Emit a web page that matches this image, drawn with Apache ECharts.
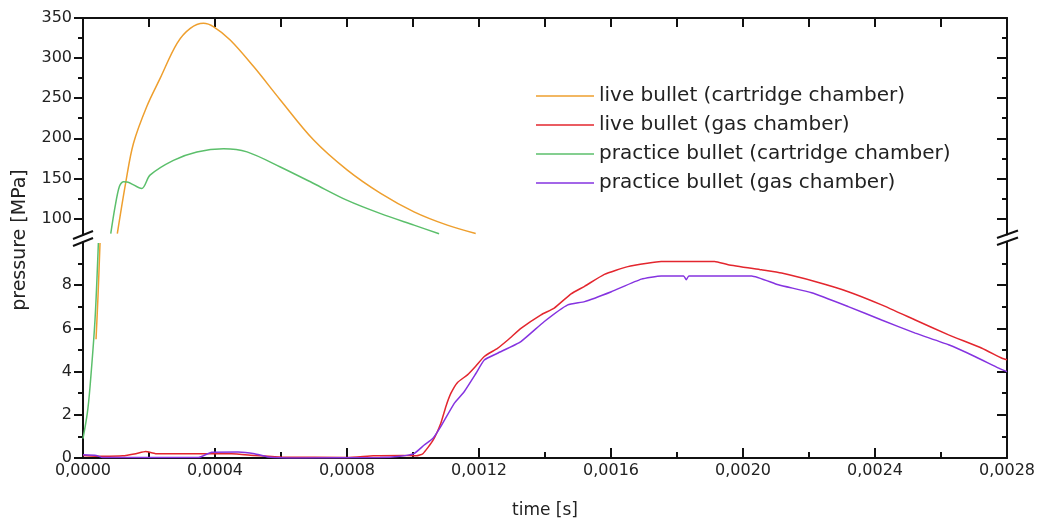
<!DOCTYPE html>
<html lang="en">
<head>
<meta charset="UTF-8">
<title>pressure vs time</title>
<script src="https://cdn.jsdelivr.net/npm/echarts@6/dist/echarts.min.js"></script>
<style>
    html, body { margin: 0; padding: 0; background: #fff; }
    #chart { width: 1050px; height: 524px; }
</style>
</head>
<body>
<div id="chart"></div>
<script>
    // ---- data: [time s, pressure MPa] ----
    var liveCartUpper = [
        [0.000104, 81.2], [0.00013, 146], [0.000153, 193.8], [0.000193, 239.4], [0.000234, 275],
        [0.000285, 318.4], [0.000325, 337], [0.000365, 343.3], [0.000396, 339], [0.000446, 322.6],
        [0.000517, 289.4], [0.000598, 247.8], [0.000699, 197.8], [0.000801, 160.3], [0.000902, 131.3],
        [0.001003, 108.3], [0.001104, 91.7], [0.00119, 81.3]
    ];
    var liveCartLower = [[0.0000395, 5.5], [0.0000455, 7.5], [0.0000516, 9.95]];

    var practCartUpper = [
        [0.0000841, 81], [0.0000972, 114.7], [0.00011, 139.6], [0.000122, 145.8], [0.000133, 145.6],
        [0.000178, 137.3], [0.000203, 154], [0.000274, 172.5], [0.000345, 183], [0.000426, 187],
        [0.000497, 183], [0.000598, 164.2], [0.000699, 143.6], [0.000801, 122.5], [0.000902, 106],
        [0.001003, 91.7], [0.001079, 81]
    ];
    var practCartLower = [[0, 0.9], [0.000013, 2.07], [0.0000213, 3.3], [0.0000364, 6.4], [0.0000466, 9.95]];

    var liveGas = [
        [0, 0.12], [0.00006, 0.08], [0.00012, 0.1], [0.00016, 0.2], [0.00019, 0.3], [0.00022, 0.2],
        [0.00045, 0.2], [0.00052, 0.12], [0.0006, 0.05], [0.0008, 0.02], [0.00088, 0.1], [0.00097, 0.12],
        [0.00101, 0.1], [0.00103, 0.2], [0.00106, 0.8], [0.001084, 1.6], [0.0011, 2.4], [0.001115, 3.0],
        [0.001135, 3.5], [0.001165, 3.85], [0.00119, 4.25], [0.001216, 4.7], [0.001256, 5.08], [0.00129, 5.5],
        [0.001327, 6.0], [0.001388, 6.63], [0.001428, 6.94], [0.001479, 7.6], [0.00152, 7.95], [0.00158, 8.5],
        [0.001651, 8.86], [0.00171, 9.02], [0.001752, 9.1], [0.001914, 9.1], [0.001955, 8.95], [0.002056, 8.71],
        [0.002117, 8.56], [0.002218, 8.17], [0.002319, 7.7], [0.00242, 7.09], [0.002522, 6.39], [0.002623, 5.7],
        [0.002724, 5.08], [0.002785, 4.62], [0.0028, 4.55]
    ];
    var practGas = [
        [0, 0.15], [0.00004, 0.12], [0.00006, 0.02], [0.00035, 0.02], [0.00039, 0.27], [0.00047, 0.28],
        [0.00052, 0.2], [0.00056, 0.05], [0.00065, 0.0], [0.0009, 0.02], [0.00096, 0.08], [0.001003, 0.2],
        [0.001034, 0.6], [0.00106, 0.9], [0.001084, 1.45], [0.001125, 2.53], [0.001155, 3.07], [0.00119, 3.9],
        [0.001216, 4.54], [0.001256, 4.85], [0.001327, 5.39], [0.001398, 6.32], [0.001469, 7.09], [0.00152, 7.24],
        [0.001601, 7.7], [0.001692, 8.28], [0.001752, 8.43], [0.00182, 8.43], [0.001828, 8.25], [0.001836, 8.43],
        [0.002026, 8.43], [0.002107, 8.02], [0.002208, 7.65], [0.002319, 7.01], [0.00242, 6.39], [0.002522, 5.78],
        [0.002623, 5.24], [0.002704, 4.69], [0.002775, 4.16], [0.0028, 4.0]
    ];

    var seriesNames = [
        'live bullet (cartridge chamber)',
        'live bullet (gas chamber)',
        'practice bullet (cartridge chamber)',
        'practice bullet (gas chamber)'
    ];
    var colors = ['#EE9F2E', '#E3262E', '#5BBF6B', '#8533E0'];

    // axis ticks
    var upperMajor = [100, 150, 200, 250, 300, 350];
    var upperMinor = [125, 175, 225, 275, 325];
    var lowerMajor = [0, 2, 4, 6, 8];
    var lowerMinor = [1, 3, 5, 7, 9];

    var FONT = '"DejaVu Sans", Arial, sans-serif';
    var black = '#111';

    function yAx(grid, pos, min, max, ticks, len, inside, labels, line) {
        return {
            type: 'value', gridIndex: grid, position: pos, min: min, max: max,
            axisLine: { show: line, onZero: false, lineStyle: { color: black, width: 2 } },
            axisTick: { show: true, inside: inside, length: len, customValues: ticks,
                        lineStyle: { color: black, width: 2 } },
            axisLabel: { show: labels, customValues: ticks, margin: 11, color: '#222',
                         fontSize: 16, fontFamily: FONT },
            splitLine: { show: false }
        };
    }

    var chart = echarts.init(document.getElementById('chart'));

    var option = {
        animation: false,
        color: colors,
        grid: [
            { left: 83, right: 43, top: 18, height: 216.5 },
            { left: 83, right: 43, top: 242, bottom: 66 }
        ],
        legend: {
            data: seriesNames,
            orient: 'vertical',
            left: 531, top: 81,
            itemWidth: 58, itemHeight: 14, itemGap: 9,
            icon: 'path://M0,0 L58,0 L58,1.5 L0,1.5 Z',
            textStyle: { fontSize: 20, color: '#222', fontFamily: FONT }
        },
        xAxis: [
            {
                type: 'value', gridIndex: 0, position: 'top', min: 0, max: 0.0028, interval: 0.0002,
                axisLine: { show: true, onZero: false, lineStyle: { color: black, width: 2 } },
                axisTick: { show: true, inside: true, length: 9, lineStyle: { color: black, width: 2 } },
                axisLabel: { show: false },
                splitLine: { show: false }
            },
            {
                type: 'value', gridIndex: 1, position: 'bottom', min: 0, max: 0.0028, interval: 0.0004,
                axisLine: { show: true, onZero: false, lineStyle: { color: black, width: 2 } },
                axisTick: { show: true, inside: true, length: 10, lineStyle: { color: black, width: 2 } },
                minorTick: { show: true, splitNumber: 2, length: 6, lineStyle: { color: black, width: 2 } },
                axisLabel: {
                    margin: 5, color: '#222', fontSize: 16, fontFamily: FONT,
                    formatter: function (v) { return v.toFixed(4).replace('.', ','); }
                },
                splitLine: { show: false },
                name: 'time [s]', nameLocation: 'middle', nameGap: 44,
                nameTextStyle: { fontSize: 17, color: '#222', fontFamily: FONT }
            }
        ],
        yAxis: [
            yAx(0, 'left', 80, 350, upperMajor, 9, false, true, true),
            yAx(0, 'left', 80, 350, upperMinor, 5, false, false, false),
            yAx(0, 'right', 80, 350, upperMajor, 10, true, false, true),
            yAx(0, 'right', 80, 350, upperMinor, 5, true, false, false),
            yAx(1, 'left', 0, 10, lowerMajor, 9, false, true, true),
            yAx(1, 'left', 0, 10, lowerMinor, 5, false, false, false),
            yAx(1, 'right', 0, 10, lowerMajor, 10, true, false, true),
            yAx(1, 'right', 0, 10, lowerMinor, 5, true, false, false)
        ],
        series: [
            { name: seriesNames[0], type: 'line', xAxisIndex: 0, yAxisIndex: 0, data: liveCartUpper, smooth: 0.35 },
            { name: seriesNames[0], type: 'line', xAxisIndex: 1, yAxisIndex: 4, data: liveCartLower, smooth: 0.3 },
            { name: seriesNames[1], type: 'line', xAxisIndex: 1, yAxisIndex: 4, data: liveGas, smooth: 0.15 },
            { name: seriesNames[2], type: 'line', xAxisIndex: 0, yAxisIndex: 0, data: practCartUpper, smooth: 0.3 },
            { name: seriesNames[2], type: 'line', xAxisIndex: 1, yAxisIndex: 4, data: practCartLower, smooth: 0.3 },
            { name: seriesNames[3], type: 'line', xAxisIndex: 1, yAxisIndex: 4, data: practGas, smooth: 0.15 }
        ].map(function (s) {
            s.showSymbol = false;
            s.symbol = 'none';
            s.lineStyle = { width: 1.5 };
            return s;
        }),
        graphic: [
            // axis break marks
            { type: 'line', shape: { x1: 73, y1: 239, x2: 93, y2: 231 }, style: { stroke: black, lineWidth: 2 } },
            { type: 'line', shape: { x1: 73, y1: 246, x2: 93, y2: 238 }, style: { stroke: black, lineWidth: 2 } },
            { type: 'line', shape: { x1: 997, y1: 238, x2: 1018, y2: 230.5 }, style: { stroke: black, lineWidth: 2 } },
            { type: 'line', shape: { x1: 997, y1: 245, x2: 1018, y2: 237.5 }, style: { stroke: black, lineWidth: 2 } },
            {
                type: 'text', x: 20, y: 240, rotation: Math.PI / 2,
                style: { text: 'pressure [MPa]', align: 'center', verticalAlign: 'middle',
                         fontSize: 19, fill: '#222', fontFamily: FONT }
            }
        ]
    };

    chart.setOption(option);
</script>
</body>
</html>
